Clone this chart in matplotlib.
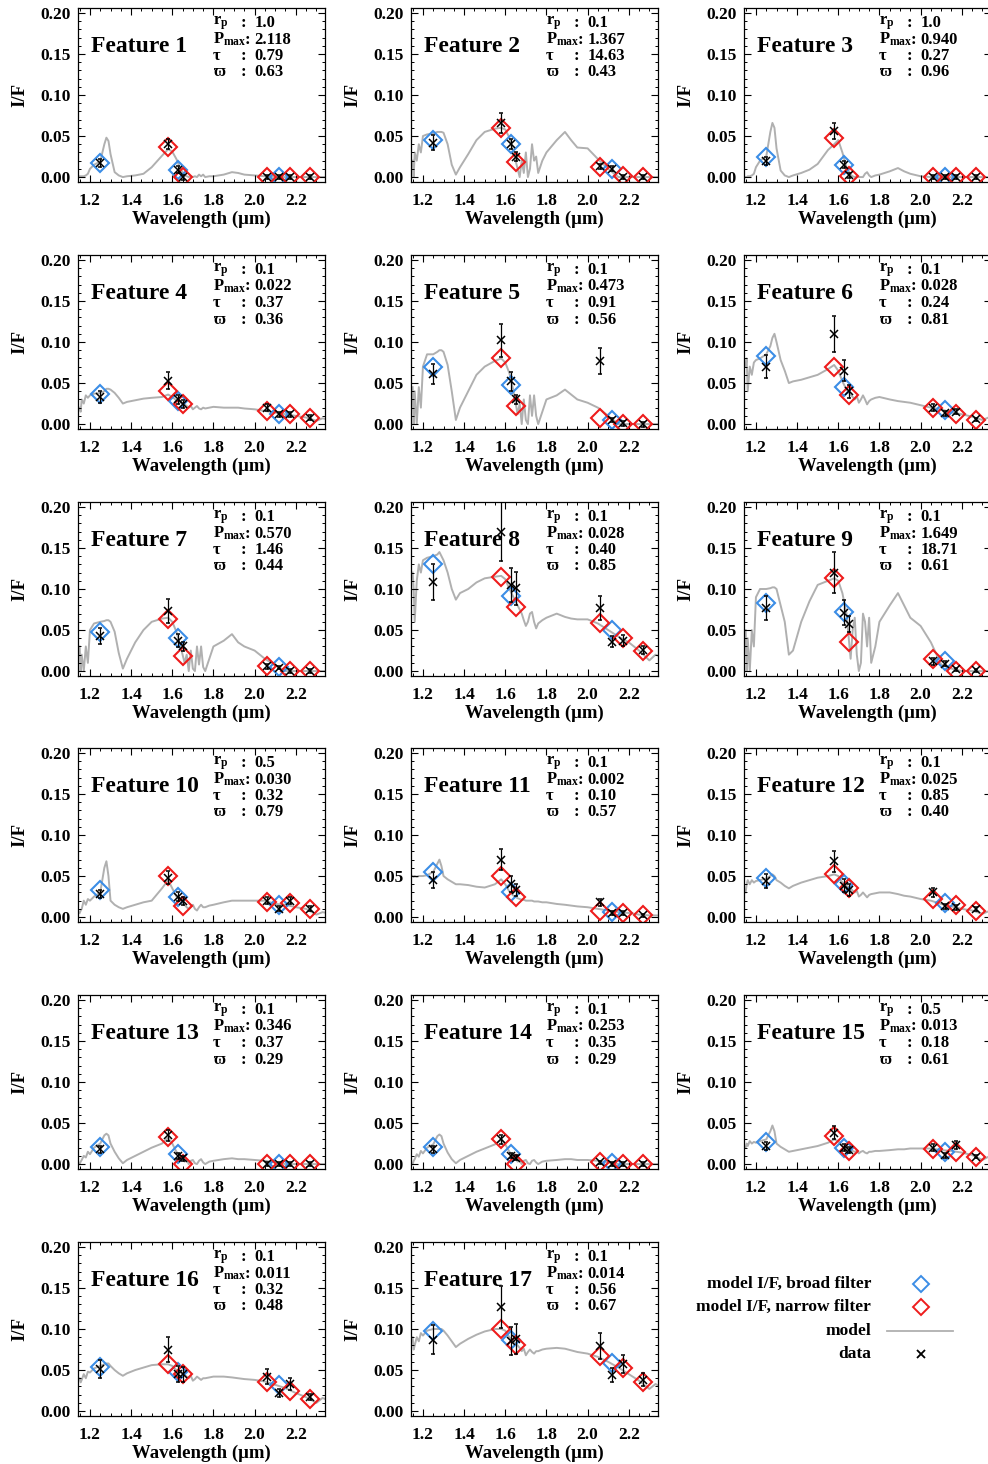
import matplotlib
matplotlib.use("Agg")
import matplotlib.pyplot as plt
from matplotlib.ticker import MultipleLocator, FormatStrFormatter
import numpy as np

plt.rcParams['font.family'] = ['Liberation Serif', 'DejaVu Serif']
plt.rcParams['font.weight'] = 'bold'
plt.rcParams['mathtext.fontset'] = 'custom'
plt.rcParams['mathtext.rm'] = 'Liberation Serif:bold'
plt.rcParams['mathtext.it'] = 'Liberation Serif:bold:italic'
plt.rcParams['mathtext.bf'] = 'Liberation Serif:bold'

# fit parameters per feature
RP = [1.0, 0.1, 1.0, 0.1, 0.1, 0.1, 0.1, 0.1, 0.1, 0.5, 0.1, 0.1, 0.1, 0.1, 0.5, 0.1, 0.1]
PMAX = [2.118, 1.367, 0.940, 0.022, 0.473, 0.028, 0.570, 0.028, 1.649, 0.030, 0.002, 0.025,
        0.346, 0.253, 0.013, 0.011, 0.014]
TAU = [0.79, 14.63, 0.27, 0.37, 0.91, 0.24, 1.46, 0.40, 18.71, 0.32, 0.10, 0.85, 0.37, 0.35,
       0.18, 0.32, 0.56]
OMEGA = [0.63, 0.43, 0.96, 0.36, 0.56, 0.81, 0.44, 0.85, 0.61, 0.79, 0.57, 0.40, 0.29, 0.29,
         0.61, 0.48, 0.67]

# filter wavelengths (um)
BROAD_WL = [1.25, 1.63, 2.12]
NARROW_WL = [1.58, 1.65, 2.06, 2.17, 2.27]
DATA_WL = [1.25, 1.58, 1.63, 1.65, 2.06, 2.12, 2.17, 2.27]

BROAD_IF = [
    [0.017, 0.009, 0.000], [0.045, 0.040, 0.010], [0.024, 0.015, 0.000],
    [0.037, 0.028, 0.012], [0.070, 0.048, 0.005], [0.083, 0.045, 0.017],
    [0.048, 0.040, 0.005], [0.130, 0.091, 0.050], [0.083, 0.072, 0.012],
    [0.033, 0.024, 0.015], [0.055, 0.031, 0.006], [0.048, 0.040, 0.017],
    [0.021, 0.012, 0.000], [0.021, 0.012, 0.001], [0.027, 0.020, 0.015],
    [0.054, 0.048, 0.032], [0.097, 0.086, 0.058],
]
NARROW_IF = [
    [0.037, 0.000, 0.000, 0.000, 0.000], [0.060, 0.018, 0.012, 0.001, 0.000],
    [0.048, 0.001, 0.000, 0.000, 0.000], [0.040, 0.025, 0.016, 0.012, 0.007],
    [0.080, 0.022, 0.008, 0.000, 0.000], [0.070, 0.035, 0.019, 0.012, 0.005],
    [0.064, 0.018, 0.006, 0.000, 0.000], [0.115, 0.078, 0.059, 0.040, 0.024],
    [0.113, 0.036, 0.015, 0.000, 0.000], [0.050, 0.013, 0.018, 0.017, 0.010],
    [0.050, 0.025, 0.008, 0.005, 0.002], [0.052, 0.035, 0.022, 0.015, 0.008],
    [0.033, 0.000, 0.000, 0.000, 0.000], [0.031, 0.000, 0.002, 0.000, 0.000],
    [0.034, 0.016, 0.018, 0.015, 0.009], [0.057, 0.045, 0.035, 0.025, 0.015],
    [0.100, 0.080, 0.067, 0.052, 0.035],
]
DATA_IF = [
    [0.017, 0.040, 0.009, 0.000, 0.000, 0.000, 0.000, 0.000],
    [0.042, 0.066, 0.040, 0.025, 0.013, 0.010, 0.000, 0.000],
    [0.020, 0.056, 0.015, 0.002, 0.000, 0.000, 0.000, 0.000],
    [0.033, 0.053, 0.030, 0.024, 0.020, 0.012, 0.012, 0.008],
    [0.061, 0.102, 0.052, 0.030, 0.077, 0.005, 0.001, 0.000],
    [0.070, 0.110, 0.065, 0.040, 0.020, 0.013, 0.015, 0.006],
    [0.043, 0.073, 0.037, 0.030, 0.006, 0.004, 0.000, 0.000],
    [0.109, 0.170, 0.105, 0.101, 0.077, 0.036, 0.037, 0.026],
    [0.077, 0.120, 0.071, 0.057, 0.012, 0.009, 0.002, 0.001],
    [0.028, 0.048, 0.025, 0.020, 0.020, 0.010, 0.020, 0.010],
    [0.045, 0.070, 0.040, 0.033, 0.018, 0.005, 0.005, 0.002],
    [0.044, 0.068, 0.038, 0.033, 0.030, 0.013, 0.012, 0.010],
    [0.018, 0.035, 0.010, 0.007, 0.000, 0.000, 0.000, 0.000],
    [0.018, 0.030, 0.010, 0.008, 0.002, 0.000, 0.000, 0.000],
    [0.022, 0.038, 0.020, 0.017, 0.020, 0.011, 0.023, 0.009],
    [0.051, 0.075, 0.045, 0.045, 0.042, 0.022, 0.033, 0.017],
    [0.087, 0.127, 0.085, 0.088, 0.079, 0.044, 0.057, 0.038],
]
DATA_ERR = [
    [0.005, 0.006, 0.004, 0.003, 0.002, 0.002, 0.002, 0.002],
    [0.009, 0.012, 0.006, 0.006, 0.003, 0.003, 0.002, 0.002],
    [0.005, 0.010, 0.004, 0.003, 0.002, 0.002, 0.002, 0.002],
    [0.007, 0.010, 0.006, 0.005, 0.004, 0.003, 0.003, 0.003],
    [0.012, 0.020, 0.012, 0.006, 0.016, 0.002, 0.003, 0.003],
    [0.014, 0.022, 0.013, 0.008, 0.004, 0.003, 0.003, 0.002],
    [0.010, 0.015, 0.008, 0.006, 0.003, 0.002, 0.002, 0.002],
    [0.022, 0.036, 0.021, 0.020, 0.015, 0.007, 0.007, 0.005],
    [0.015, 0.025, 0.015, 0.010, 0.004, 0.003, 0.002, 0.002],
    [0.005, 0.008, 0.006, 0.005, 0.004, 0.003, 0.004, 0.003],
    [0.010, 0.013, 0.010, 0.007, 0.004, 0.002, 0.002, 0.002],
    [0.009, 0.013, 0.008, 0.007, 0.006, 0.003, 0.003, 0.002],
    [0.004, 0.007, 0.004, 0.003, 0.002, 0.002, 0.002, 0.002],
    [0.004, 0.005, 0.003, 0.003, 0.002, 0.002, 0.002, 0.002],
    [0.005, 0.008, 0.004, 0.004, 0.004, 0.003, 0.005, 0.002],
    [0.011, 0.015, 0.010, 0.009, 0.009, 0.005, 0.007, 0.004],
    [0.018, 0.026, 0.017, 0.018, 0.016, 0.009, 0.011, 0.008],
]

# model spectrum, sampled at MODEL_WL
MODEL_WL = [1.15, 1.155, 1.16, 1.17, 1.18, 1.19, 1.20, 1.22, 1.25, 1.27,
            1.28, 1.29, 1.30, 1.32, 1.34, 1.36, 1.38, 1.42, 1.46, 1.50,
            1.55, 1.58, 1.60, 1.62, 1.64, 1.66, 1.67, 1.68, 1.69, 1.70,
            1.71, 1.72, 1.73, 1.74, 1.75, 1.76, 1.78, 1.80, 1.85, 1.89,
            1.92, 1.95, 2.00, 2.05, 2.10, 2.15, 2.20, 2.25, 2.30, 2.33, 2.35]
MODEL_IF = [
    [0.001, 0.001, 0.001, 0.001, 0.002, 0.004, 0.010, 0.015, 0.019, 0.040,
     0.048, 0.044, 0.028, 0.006, 0.002, 0.000, 0.001, 0.002, 0.004, 0.012,
     0.026, 0.034, 0.031, 0.022, 0.010, 0.002, 0.001, 0.000, 0.001, 0.000,
     0.001, 0.000, 0.003, 0.001, 0.003, 0.000, 0.001, 0.001, 0.003, 0.006,
     0.005, 0.003, 0.002, 0.001, 0.000, 0.000, 0.000, 0.000, 0.000, 0.000, 0.000],
    [0.020, 0.000, 0.030, 0.020, 0.040, 0.030, 0.050, 0.052, 0.053, 0.055,
     0.055, 0.055, 0.054, 0.040, 0.015, 0.003, 0.012, 0.028, 0.045, 0.055,
     0.059, 0.060, 0.058, 0.048, 0.030, 0.010, 0.000, 0.020, 0.005, 0.030,
     0.000, 0.010, 0.040, 0.020, 0.025, 0.005, 0.020, 0.030, 0.045, 0.055,
     0.045, 0.036, 0.035, 0.022, 0.010, 0.000, 0.000, 0.000, 0.000, 0.000, 0.000],
    [0.000, 0.000, 0.001, 0.001, 0.002, 0.004, 0.012, 0.020, 0.025, 0.055,
     0.066, 0.060, 0.035, 0.008, 0.002, 0.000, 0.002, 0.005, 0.009, 0.016,
     0.033, 0.040, 0.045, 0.030, 0.012, 0.003, 0.001, 0.000, 0.001, 0.000,
     0.000, 0.000, 0.004, 0.006, 0.002, 0.000, 0.002, 0.003, 0.007, 0.011,
     0.007, 0.004, 0.001, 0.000, 0.000, 0.000, 0.000, 0.000, 0.000, 0.000, 0.000],
    [0.020, 0.015, 0.030, 0.025, 0.035, 0.032, 0.035, 0.037, 0.038, 0.040,
     0.043, 0.043, 0.042, 0.038, 0.032, 0.025, 0.027, 0.029, 0.031, 0.032,
     0.033, 0.036, 0.033, 0.029, 0.026, 0.024, 0.022, 0.020, 0.022, 0.018,
     0.020, 0.022, 0.019, 0.018, 0.020, 0.019, 0.020, 0.021, 0.020, 0.020,
     0.020, 0.019, 0.018, 0.016, 0.014, 0.012, 0.010, 0.008, 0.004, 0.007, 0.006],
    [0.045, 0.000, 0.040, 0.000, 0.045, 0.020, 0.070, 0.085, 0.085, 0.088,
     0.090, 0.090, 0.088, 0.072, 0.040, 0.005, 0.020, 0.040, 0.060, 0.070,
     0.077, 0.080, 0.075, 0.062, 0.040, 0.012, 0.025, 0.000, 0.030, 0.005,
     0.000, 0.035, 0.010, 0.035, 0.010, 0.000, 0.015, 0.030, 0.035, 0.042,
     0.036, 0.030, 0.026, 0.020, 0.010, 0.000, 0.000, 0.000, 0.000, 0.000, 0.000],
    [0.070, 0.080, 0.040, 0.070, 0.060, 0.075, 0.078, 0.080, 0.085, 0.095,
     0.105, 0.110, 0.100, 0.078, 0.065, 0.050, 0.052, 0.054, 0.057, 0.060,
     0.067, 0.072, 0.065, 0.052, 0.042, 0.036, 0.033, 0.030, 0.034, 0.026,
     0.030, 0.035, 0.030, 0.024, 0.028, 0.030, 0.032, 0.033, 0.030, 0.028,
     0.027, 0.026, 0.023, 0.020, 0.018, 0.014, 0.012, 0.009, 0.005, 0.008, 0.007],
    [0.030, 0.000, 0.020, 0.000, 0.030, 0.010, 0.050, 0.058, 0.060, 0.061,
     0.062, 0.062, 0.060, 0.048, 0.022, 0.003, 0.015, 0.035, 0.050, 0.060,
     0.064, 0.065, 0.060, 0.048, 0.030, 0.010, 0.020, 0.000, 0.025, 0.003,
     0.000, 0.030, 0.008, 0.030, 0.005, 0.000, 0.015, 0.030, 0.037, 0.045,
     0.035, 0.030, 0.025, 0.015, 0.007, 0.000, 0.000, 0.000, 0.000, 0.000, 0.000],
    [0.120, 0.100, 0.060, 0.110, 0.130, 0.120, 0.135, 0.138, 0.140, 0.142,
     0.145, 0.140, 0.135, 0.120, 0.100, 0.087, 0.095, 0.100, 0.108, 0.113,
     0.115, 0.116, 0.112, 0.100, 0.090, 0.080, 0.075, 0.070, 0.062, 0.055,
     0.060, 0.070, 0.072, 0.060, 0.052, 0.058, 0.062, 0.065, 0.070, 0.066,
     0.064, 0.063, 0.063, 0.058, 0.050, 0.042, 0.035, 0.025, 0.013, 0.020, 0.018],
    [0.050, 0.000, 0.040, 0.000, 0.050, 0.030, 0.090, 0.100, 0.100, 0.101,
     0.102, 0.102, 0.100, 0.080, 0.060, 0.020, 0.025, 0.060, 0.085, 0.105,
     0.110, 0.113, 0.110, 0.095, 0.070, 0.015, 0.050, 0.065, 0.020, 0.000,
     0.010, 0.070, 0.060, 0.030, 0.065, 0.010, 0.030, 0.060, 0.080, 0.095,
     0.080, 0.065, 0.055, 0.035, 0.008, 0.003, 0.000, 0.000, 0.000, 0.000, 0.000],
    [0.005, 0.008, 0.010, 0.020, 0.015, 0.022, 0.020, 0.025, 0.030, 0.060,
     0.068, 0.050, 0.020, 0.015, 0.012, 0.010, 0.012, 0.015, 0.018, 0.020,
     0.035, 0.045, 0.035, 0.025, 0.020, 0.015, 0.012, 0.010, 0.013, 0.015,
     0.010, 0.008, 0.012, 0.015, 0.012, 0.012, 0.014, 0.015, 0.018, 0.020,
     0.020, 0.020, 0.020, 0.020, 0.016, 0.015, 0.012, 0.010, 0.003, 0.006, 0.005],
    [0.050, 0.049, 0.050, 0.049, 0.050, 0.050, 0.050, 0.051, 0.055, 0.065,
     0.070, 0.062, 0.050, 0.046, 0.043, 0.040, 0.040, 0.039, 0.037, 0.036,
     0.040, 0.046, 0.040, 0.031, 0.026, 0.023, 0.022, 0.021, 0.021, 0.020,
     0.020, 0.020, 0.020, 0.019, 0.019, 0.019, 0.018, 0.018, 0.016, 0.015,
     0.014, 0.013, 0.012, 0.010, 0.008, 0.006, 0.005, 0.003, 0.002, 0.002, 0.002],
    [0.030, 0.040, 0.045, 0.040, 0.045, 0.042, 0.044, 0.045, 0.047, 0.050,
     0.052, 0.050, 0.045, 0.042, 0.038, 0.035, 0.038, 0.042, 0.045, 0.048,
     0.050, 0.052, 0.050, 0.042, 0.038, 0.035, 0.032, 0.030, 0.032, 0.025,
     0.027, 0.030, 0.027, 0.024, 0.027, 0.028, 0.029, 0.030, 0.030, 0.028,
     0.026, 0.025, 0.022, 0.020, 0.016, 0.013, 0.010, 0.008, 0.004, 0.007, 0.006],
    [0.000, 0.003, 0.005, 0.010, 0.008, 0.015, 0.012, 0.020, 0.025, 0.035,
     0.037, 0.035, 0.025, 0.015, 0.007, 0.001, 0.005, 0.010, 0.015, 0.020,
     0.025, 0.032, 0.025, 0.015, 0.010, 0.003, 0.005, 0.000, 0.004, 0.005,
     0.001, 0.000, 0.004, 0.006, 0.002, 0.000, 0.003, 0.004, 0.006, 0.007,
     0.006, 0.006, 0.005, 0.004, 0.002, 0.000, 0.000, 0.000, 0.000, 0.000, 0.000],
    [0.000, 0.004, 0.006, 0.012, 0.009, 0.016, 0.013, 0.020, 0.024, 0.034,
     0.036, 0.034, 0.025, 0.014, 0.006, 0.001, 0.005, 0.010, 0.015, 0.019,
     0.024, 0.030, 0.024, 0.015, 0.009, 0.003, 0.004, 0.000, 0.004, 0.005,
     0.001, 0.000, 0.004, 0.005, 0.002, 0.000, 0.003, 0.004, 0.005, 0.006,
     0.006, 0.005, 0.005, 0.004, 0.002, 0.000, 0.000, 0.000, 0.000, 0.000, 0.000],
    [0.020, 0.025, 0.022, 0.028, 0.025, 0.027, 0.026, 0.028, 0.030, 0.040,
     0.047, 0.040, 0.025, 0.021, 0.018, 0.015, 0.016, 0.018, 0.020, 0.022,
     0.026, 0.030, 0.028, 0.022, 0.019, 0.017, 0.016, 0.015, 0.016, 0.013,
     0.015, 0.016, 0.014, 0.013, 0.015, 0.015, 0.016, 0.016, 0.017, 0.018,
     0.018, 0.019, 0.019, 0.019, 0.017, 0.016, 0.014, 0.011, 0.005, 0.009, 0.008],
    [0.040, 0.035, 0.038, 0.045, 0.040, 0.048, 0.047, 0.052, 0.055, 0.057,
     0.058, 0.058, 0.055, 0.050, 0.046, 0.043, 0.046, 0.050, 0.053, 0.056,
     0.057, 0.057, 0.055, 0.050, 0.047, 0.044, 0.042, 0.040, 0.043, 0.037,
     0.039, 0.042, 0.040, 0.038, 0.040, 0.040, 0.041, 0.042, 0.042, 0.041,
     0.040, 0.039, 0.038, 0.036, 0.032, 0.028, 0.022, 0.017, 0.010, 0.016, 0.014],
    [0.090, 0.075, 0.080, 0.090, 0.085, 0.095, 0.092, 0.098, 0.100, 0.100,
     0.100, 0.100, 0.098, 0.092, 0.085, 0.078, 0.082, 0.088, 0.093, 0.097,
     0.100, 0.100, 0.098, 0.090, 0.085, 0.080, 0.077, 0.073, 0.076, 0.068,
     0.072, 0.075, 0.072, 0.070, 0.073, 0.073, 0.075, 0.076, 0.077, 0.076,
     0.074, 0.072, 0.070, 0.066, 0.060, 0.053, 0.045, 0.037, 0.027, 0.033, 0.030],
]

BLUE = '#3b8de6'
RED = '#ee1c1c'
GRAY = '#b0b0b0'

W, H = 988, 1464
fig = plt.figure(figsize=(W / 100, H / 100), dpi=100)

col_left = [78, 411, 744]
row_top = [8, 255, 502, 748, 995, 1242]
aw, ah = 247, 174

for k in range(17):
    r, c = divmod(k, 3)
    ax = fig.add_axes([col_left[c] / W, 1 - (row_top[r] + ah) / H, aw / W, ah / H])
    ax.plot(MODEL_WL, MODEL_IF[k], color=GRAY, lw=1.4, zorder=1)
    ax.plot(BROAD_WL, BROAD_IF[k], 'D', ms=9, mfc='none', mec=BLUE, mew=1.5, zorder=2)
    ax.plot(NARROW_WL, NARROW_IF[k], 'D', ms=9, mfc='none', mec=RED, mew=1.5, zorder=2)
    ax.errorbar(DATA_WL, DATA_IF[k], yerr=DATA_ERR[k], fmt='x', color='black', ms=5.5,
                mew=1.1, elinewidth=0.9, capsize=1.2, capthick=1.2, zorder=3)

    ax.set_xlim(1.142, 2.342)
    ax.set_ylim(-0.006, 0.206)
    ax.xaxis.set_major_locator(MultipleLocator(0.2))
    ax.xaxis.set_minor_locator(MultipleLocator(0.05))
    ax.yaxis.set_major_locator(MultipleLocator(0.05))
    ax.yaxis.set_minor_locator(MultipleLocator(0.01))
    ax.xaxis.set_major_formatter(FormatStrFormatter('%.1f'))
    ax.yaxis.set_major_formatter(FormatStrFormatter('%.2f'))
    ax.tick_params(which='both', direction='in', top=True, right=True, labelsize=12.5)
    ax.tick_params(which='major', length=5, width=0.8)
    ax.tick_params(which='minor', length=2.5, width=0.7)
    ax.tick_params(axis='x', pad=8)
    ax.tick_params(axis='y', pad=5)
    for s in ax.spines.values():
        s.set_linewidth(0.9)

    ax.set_xlabel('Wavelength (μm)', fontsize=13.5, fontweight='bold')
    ax.xaxis.set_label_coords(0.5, -0.165)
    ax.xaxis.label.set_va('top')
    ax.set_ylabel('I/F', fontsize=13.5, fontweight='bold')
    ax.yaxis.set_label_coords(-0.20, 0.5)

    ax.text(0.053, 0.78, 'Feature %d' % (k + 1), transform=ax.transAxes,
            fontsize=17, fontweight='bold', va='center', ha='left')
    labels = [r'r$_\mathrm{p}$', r'P$_\mathrm{max}$', 'τ', 'ϖ']
    values = ['%.1f' % RP[k], '%.3f' % PMAX[k], '%.2f' % TAU[k], '%.2f' % OMEGA[k]]
    for j in range(4):
        yy = 1 - (15 + 16.5 * j) / ah
        ax.text(0.545, yy, labels[j], transform=ax.transAxes, fontsize=12,
                fontweight='bold', va='center', ha='left')
        ax.text(0.66 if j != 1 else 0.675, yy, ':', transform=ax.transAxes, fontsize=12,
                fontweight='bold', va='center', ha='left')
        ax.text(0.715, yy, values[j], transform=ax.transAxes, fontsize=12,
                fontweight='bold', va='center', ha='left')

# legend drawn in figure pixel space
lg = fig.add_axes([0, 0, 1, 1], facecolor='none')
lg.set_xlim(0, W)
lg.set_ylim(H, 0)
lg.axis('off')
leg_text = ['model I/F, broad filter', 'model I/F, narrow filter', 'model', 'data']
leg_y = [1284, 1307, 1331, 1354]
for t, yy in zip(leg_text, leg_y):
    lg.text(871, yy, t, fontsize=12.5, fontweight='bold', ha='right', va='center')
lg.plot([921], [leg_y[0]], 'D', ms=8, mfc='none', mec=BLUE, mew=1.4)
lg.plot([921], [leg_y[1]], 'D', ms=8, mfc='none', mec=RED, mew=1.4)
lg.plot([887, 953], [leg_y[2], leg_y[2]], color=GRAY, lw=1.3)
lg.plot([921], [leg_y[3]], 'x', color='black', ms=6, mew=1.3)

fig.savefig('out.png', dpi=100)
